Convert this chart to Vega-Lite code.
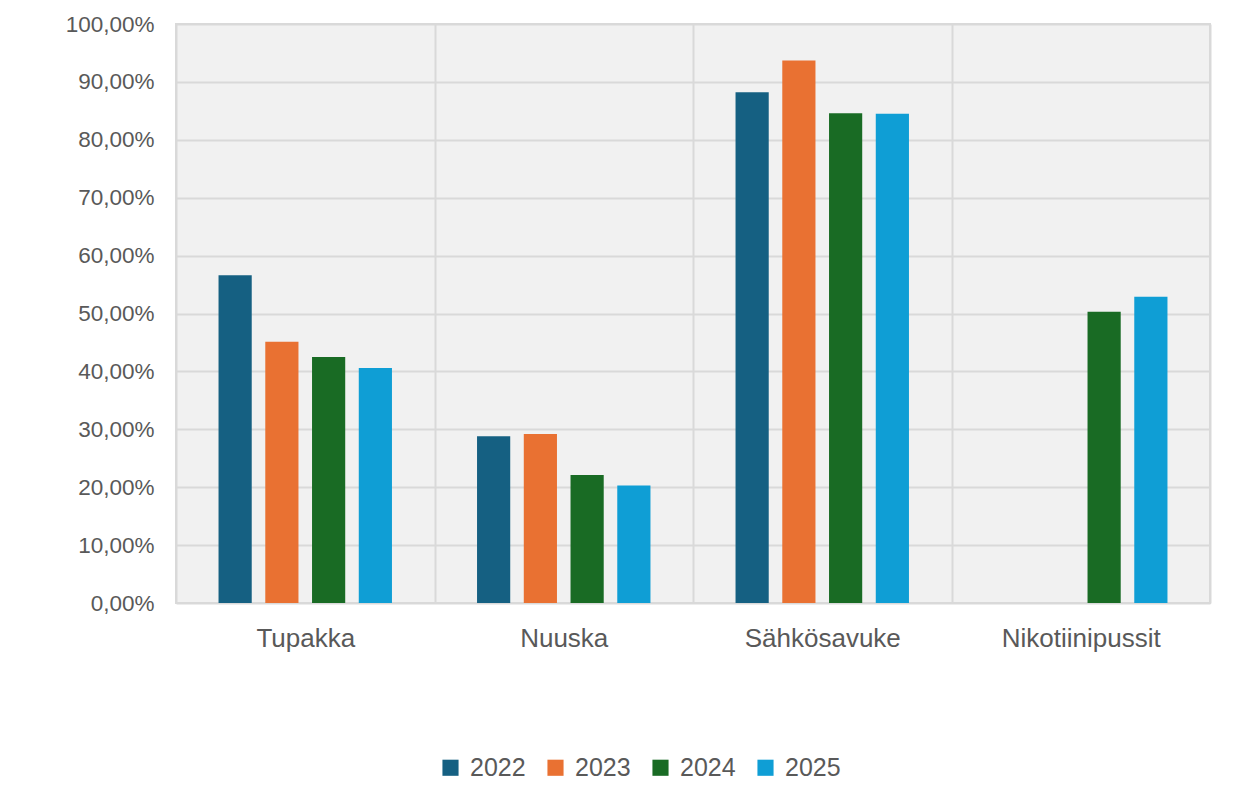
{
  "$schema": "https://vega.github.io/schema/vega-lite/v6.json",
  "autosize": "none",
  "width": 1034,
  "height": 579,
  "padding": {"left": 176, "top": 24, "right": 46, "bottom": 201},
  "background": "white",
  "config": {
    "view": {"fill": "#f1f1f1", "stroke": "#d9d9d9", "strokeWidth": 2},
    "font": "Liberation Sans"
  },
  "data": {
    "values": [
      {"category": "Tupakka", "year": "2022", "value": 0.566},
      {"category": "Tupakka", "year": "2023", "value": 0.451},
      {"category": "Tupakka", "year": "2024", "value": 0.425},
      {"category": "Tupakka", "year": "2025", "value": 0.406},
      {"category": "Nuuska", "year": "2022", "value": 0.288},
      {"category": "Nuuska", "year": "2023", "value": 0.292},
      {"category": "Nuuska", "year": "2024", "value": 0.221},
      {"category": "Nuuska", "year": "2025", "value": 0.203},
      {"category": "Sähkösavuke", "year": "2022", "value": 0.882},
      {"category": "Sähkösavuke", "year": "2023", "value": 0.937},
      {"category": "Sähkösavuke", "year": "2024", "value": 0.846},
      {"category": "Sähkösavuke", "year": "2025", "value": 0.845},
      {"category": "Nikotiinipussit", "year": "2024", "value": 0.503},
      {"category": "Nikotiinipussit", "year": "2025", "value": 0.529}
    ]
  },
  "mark": {"type": "bar"},
  "encoding": {
    "x": {
      "field": "category",
      "type": "nominal",
      "sort": ["Tupakka", "Nuuska", "Sähkösavuke", "Nikotiinipussit"],
      "scale": {"paddingInner": 0, "paddingOuter": 0},
      "axis": {
        "title": null,
        "labelAngle": 0,
        "labelFontSize": 26,
        "labelColor": "#595959",
        "labelPadding": 22,
        "domain": false,
        "ticks": false,
        "grid": true,
        "tickBand": "extent",
        "gridColor": "#d9d9d9",
        "gridWidth": 2
      }
    },
    "xOffset": {
      "field": "year",
      "type": "nominal",
      "scale": {"domain": ["2022", "2023", "2024", "2025"], "paddingInner": 0.29, "paddingOuter": 0.91}
    },
    "y": {
      "field": "value",
      "type": "quantitative",
      "scale": {"domain": [0, 1]},
      "axis": {
        "title": null,
        "values": [0, 0.1, 0.2, 0.3, 0.4, 0.5, 0.6, 0.7, 0.8, 0.9, 1],
        "labelExpr": "replace(format(datum.value, '.2%'), '.', ',')",
        "labelFontSize": 22.5,
        "labelColor": "#595959",
        "labelPadding": 22,
        "domain": false,
        "ticks": false,
        "gridColor": "#d9d9d9",
        "gridWidth": 2
      }
    },
    "color": {
      "field": "year",
      "type": "nominal",
      "scale": {"domain": ["2022", "2023", "2024", "2025"], "range": ["#156082", "#E97132", "#196B24", "#0F9ED5"]},
      "legend": {
        "title": null,
        "orient": "none",
        "legendX": 262,
        "legendY": 731,
        "direction": "horizontal",
        "symbolType": "square",
        "symbolSize": 260,
        "symbolStrokeWidth": 0,
        "labelFontSize": 25,
        "labelColor": "#595959",
        "columnPadding": 17,
        "labelOffset": 7
      }
    }
  }
}
